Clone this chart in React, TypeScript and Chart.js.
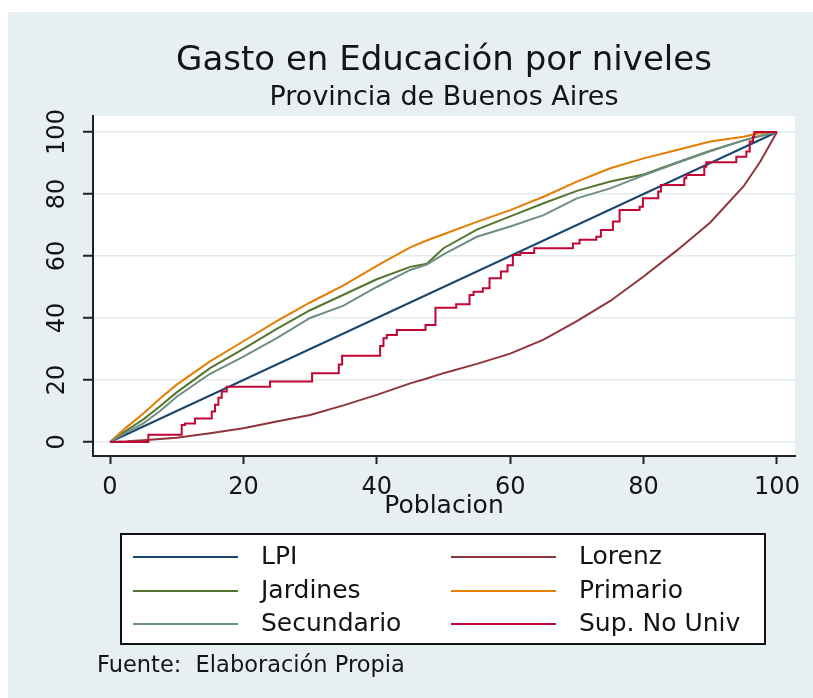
import React, { useEffect, useRef } from 'react';
import { Chart, registerables } from 'chart.js';

Chart.register(...registerables);

// ---------------- data ----------------
const titleText = 'Gasto en Educación por niveles';
const subtitleText = 'Provincia de Buenos Aires';
const xAxisTitle = 'Poblacion';
const footerText = 'Fuente:  Elaboración Propia';

const xTicks = [0, 20, 40, 60, 80, 100];
const yTicks = [0, 20, 40, 60, 80, 100];

// población acumulada (%)
const pobl = [0, 2.5, 5, 7.5, 10, 15, 20, 25, 30, 35, 40, 45, 47.5, 50, 55, 60, 65, 70, 75, 80, 85, 90, 95, 97.5, 100];

const lpi = [0, 2.5, 5, 7.5, 10, 15, 20, 25, 30, 35, 40, 45, 47.5, 50, 55, 60, 65, 70, 75, 80, 85, 90, 95, 97.5, 100];
const lorenz = [0, 0.2, 0.6, 1.0, 1.4, 2.8, 4.4, 6.6, 8.7, 11.8, 15.2, 18.9, 20.5, 22.2, 25.2, 28.5, 33, 39, 45.5, 53.4, 61.8, 70.8, 82.5, 90.5, 100];
const jardines = [0, 3.8, 7.3, 11.5, 16, 23.8, 30, 36.5, 42.5, 47.5, 52.5, 56.5, 57.5, 62.5, 68.5, 72.8, 77, 81, 84, 86.3, 90.2, 94, 97.3, 98.7, 100];
const primario = [0, 4.8, 9.2, 14, 18.5, 26, 32.5, 39, 45, 50.5, 56.8, 62.8, 65, 67, 71, 74.8, 79.1, 84, 88.3, 91.5, 94.2, 96.9, 98.5, 99.7, 100];
const secundario = [0, 3.2, 6, 10, 14.6, 22, 27.5, 33.5, 40, 44, 50, 55.5, 57.2, 60.5, 66.2, 69.5, 73.2, 78.6, 81.8, 86, 90, 93.8, 97.3, 98.8, 100];

// Sup. No Univ (escalonada)
const supX = [0, 5.75, 10.75, 11.25, 12.75, 15.25, 15.75, 16.25, 16.75, 17.5, 24, 30.3, 34.3, 34.8, 40.5, 41, 41.5, 43, 47.3, 48.8, 51.9, 53.9, 54.5, 55.9, 56.9, 58.6, 59.6, 60.4, 61.5, 63.6, 69.4, 70.4, 72.9, 73.6, 75.4, 76.4, 79.4, 79.9, 82.2, 82.6, 86.1, 86.4, 89.1, 89.4, 93.9, 95.4, 95.9, 96.4, 96.6, 100];
const supY = [0, 2.3, 5.5, 6, 7.6, 9.8, 12, 14.3, 16.3, 17.8, 19.5, 22.2, 25, 27.8, 31, 33.5, 34.5, 36.1, 37.7, 43.3, 44.4, 47.4, 48.5, 49.6, 52.8, 55, 57, 60.3, 61, 62.5, 64, 65.2, 66.2, 68.4, 71.1, 74.8, 75.9, 78.6, 80.8, 82.9, 85.1, 86.1, 88.8, 90.2, 92, 93.7, 96.9, 98.5, 100, 100];

const seriesLabels = ['LPI', 'Lorenz', 'Jardines', 'Primario', 'Secundario', 'Sup. No Univ'];
const seriesColors = ['#1a476f', '#90353b', '#55752f', '#e37e00', '#6e8e84', '#c10534'];

// ---------------- style ----------------
const FONT = '"DejaVu Sans", "Liberation Sans", sans-serif';
const PANEL = '#e8eff2';
const TEXT = '#141414';

const toXY = (xs: number[], ys: number[]) => xs.map((x, i) => ({ x, y: ys[i] }));

const stataPlugin = {
  id: 'stataDecor',
  beforeDraw(chart: any) {
    const { ctx, chartArea: a } = chart;
    ctx.save();
    ctx.fillStyle = '#ffffff';
    ctx.fillRect(0, 0, chart.width, chart.height);
    ctx.fillStyle = PANEL;
    ctx.fillRect(8, 12, chart.width - 8, chart.height - 12);
    ctx.fillStyle = '#ffffff';
    ctx.fillRect(a.left, a.top, a.right - a.left, a.bottom - a.top);
    ctx.restore();
  },
  afterDraw(chart: any) {
    const { ctx } = chart;
    ctx.save();
    // legend box
    const bx = 121, by = 534, bw = 644, bh = 110;
    ctx.fillStyle = '#ffffff';
    ctx.fillRect(bx, by, bw, bh);
    ctx.strokeStyle = '#111111';
    ctx.lineWidth = 2;
    ctx.strokeRect(bx, by, bw, bh);
    const rowsY = [557, 591, 624];
    const lineX = [133, 451];
    const textX = [261, 579];
    ctx.font = `25px ${FONT}`;
    ctx.textBaseline = 'middle';
    ctx.textAlign = 'left';
    chart.data.datasets.forEach((ds: any, i: number) => {
      const row = Math.floor(i / 2);
      const col = i % 2;
      const y = rowsY[row];
      ctx.strokeStyle = ds.borderColor;
      ctx.lineWidth = 2;
      ctx.beginPath();
      ctx.moveTo(lineX[col], y);
      ctx.lineTo(lineX[col] + 105, y);
      ctx.stroke();
      ctx.fillStyle = TEXT;
      ctx.fillText(ds.label, textX[col], y);
    });
    // footer
    ctx.font = `22.5px ${FONT}`;
    ctx.textBaseline = 'alphabetic';
    ctx.fillStyle = TEXT;
    ctx.fillText(footerText, 97, 672);
    ctx.restore();
  },
};

export default function App() {
  const ref = useRef<HTMLCanvasElement>(null);

  useEffect(() => {
    document.body.style.margin = '0';
    const datasetsData = [
      toXY(pobl, lpi),
      toXY(pobl, lorenz),
      toXY(pobl, jardines),
      toXY(pobl, primario),
      toXY(pobl, secundario),
      toXY(supX, supY),
    ];
    const chart = new Chart(ref.current as HTMLCanvasElement, {
      type: 'line',
      data: {
        datasets: datasetsData.map((d, i) => ({
          label: seriesLabels[i],
          data: d,
          borderColor: seriesColors[i],
          backgroundColor: seriesColors[i],
          borderWidth: 2,
          pointRadius: 0,
          fill: false,
          tension: 0,
          stepped: i === 5 ? true : false,
          order: datasetsData.length - i,
        })),
      },
      options: {
        animation: false,
        responsive: false,
        maintainAspectRatio: false,
        devicePixelRatio: 1,
        layout: { padding: { top: 0, left: 0, right: 18, bottom: 172 } },
        plugins: {
          legend: { display: false },
          tooltip: { enabled: false },
          title: {
            display: true,
            fullSize: false,
            text: titleText,
            color: TEXT,
            font: { family: FONT, size: 34, weight: 'normal', lineHeight: 1.2 },
            padding: { top: 40.5, bottom: 0 },
          },
          subtitle: {
            display: true,
            fullSize: false,
            text: subtitleText,
            color: TEXT,
            font: { family: FONT, size: 27, weight: 'normal', lineHeight: 1.2 },
            padding: { top: 0, bottom: 2.3 },
          },
        },
        scales: {
          x: {
            type: 'linear',
            min: -2.55,
            max: 102.7,
            afterBuildTicks: (s: any) => {
              s.ticks = xTicks.map((v) => ({ value: v }));
            },
            afterFit: (s: any) => {
              s.height = 70;
            },
            ticks: {
              color: TEXT,
              font: { family: FONT, size: 24 },
              padding: 9,
              maxRotation: 0,
              minRotation: 0,
              autoSkip: false,
            },
            grid: {
              drawOnChartArea: false,
              drawTicks: true,
              tickLength: 8,
              tickColor: '#222222',
              tickWidth: 2,
            },
            border: { display: true, color: '#222222', width: 2 },
            title: {
              display: true,
              text: xAxisTitle,
              color: TEXT,
              font: { family: FONT, size: 25, lineHeight: 1.2 },
              padding: { top: 0, bottom: 5 },
            },
          },
          y: {
            type: 'linear',
            min: -4.52,
            max: 105.16,
            afterBuildTicks: (s: any) => {
              s.ticks = yTicks.map((v) => ({ value: v }));
            },
            afterFit: (s: any) => {
              s.width = 93;
            },
            ticks: {
              color: TEXT,
              font: { family: FONT, size: 24 },
              padding: 2.6,
              minRotation: 90,
              maxRotation: 90,
              crossAlign: 'center',
              align: 'center',
              autoSkip: false,
            },
            grid: {
              drawOnChartArea: true,
              color: '#e3ebee',
              lineWidth: 1.5,
              drawTicks: true,
              tickLength: 10,
              tickColor: '#222222',
              tickWidth: 2,
            },
            border: { display: true, color: '#222222', width: 2 },
          },
        },
      } as any,
      plugins: [stataPlugin],
    });
    return () => chart.destroy();
  }, []);

  return (
    <div style={{ position: 'absolute', left: 0, top: 0, width: 813, height: 698 }}>
      <canvas ref={ref} width={813} height={698} style={{ display: 'block' }} />
    </div>
  );
}
